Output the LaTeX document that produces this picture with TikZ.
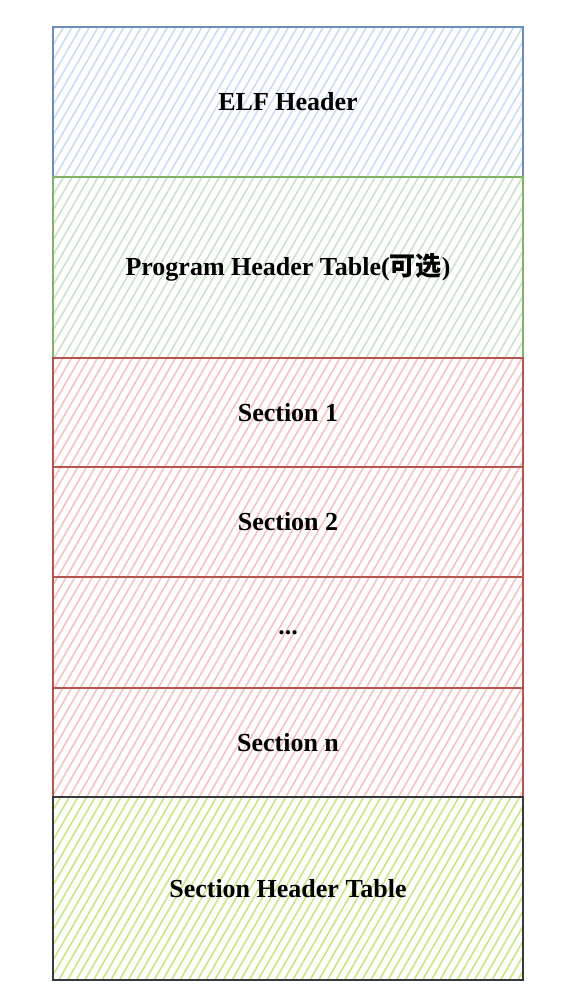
\documentclass[tikz,border=0pt]{standalone}
\usepackage{fontspec}
\setmainfont{Liberation Serif}
\newfontfamily\cjk{Noto Sans CJK SC}
\usetikzlibrary{positioning,patterns.meta}

\definecolor{blueline}{HTML}{6C8EBF}
\definecolor{bluefill}{HTML}{C9DCF7}
\definecolor{greenline}{HTML}{82B366}
\definecolor{greenfill}{HTML}{C9E3C7}
\definecolor{redline}{HTML}{B85450}
\definecolor{redfill}{HTML}{F5C2C0}
\definecolor{darkline}{HTML}{36393D}
\definecolor{limefill}{HTML}{C6E880}

\begin{document}
\begin{tikzpicture}[x=1pt,y=-1pt]
	    \tikzset{
	      part/.style={rectangle, outer sep=0pt, inner sep=0pt, minimum width=470pt,
	        line width=2pt, font=\fontsize{26}{30}\selectfont\bfseries},
	      hatch/.style={pattern={Lines[angle=60,distance=7.5pt,line width=1.6pt]}, pattern color=#1}
	    }
	    \useasboundingbox (0,0) rectangle (561,1007);
	    % header and program table
	    \node [part, draw=blueline, hatch=bluefill, minimum height=150pt, anchor=north west] (elf) at (53,27) {ELF Header};
	    \node [part, draw=greenline, hatch=greenfill, minimum height=181pt, below=0pt of elf] (pht) {Program Header Table({\cjk 可选})};
	    % sections
	    \node [part, draw=redline, hatch=redfill, minimum height=109pt, below=0pt of pht] (sec1) {Section 1};
	    \node [part, draw=redline, hatch=redfill, minimum height=110pt, below=0pt of sec1] (sec2) {Section 2};
	    \node [part, draw=redline, hatch=redfill, minimum height=111pt, below=0pt of sec2] (dots) {...};
	    \node [part, draw=redline, hatch=redfill, minimum height=109pt, below=0pt of dots] (secn) {Section n};
	    % section header table
	    \node [part, draw=darkline, hatch=limefill, minimum height=183pt, below=0pt of secn] (sht) {Section Header Table};
	\end{tikzpicture}
\end{document}
